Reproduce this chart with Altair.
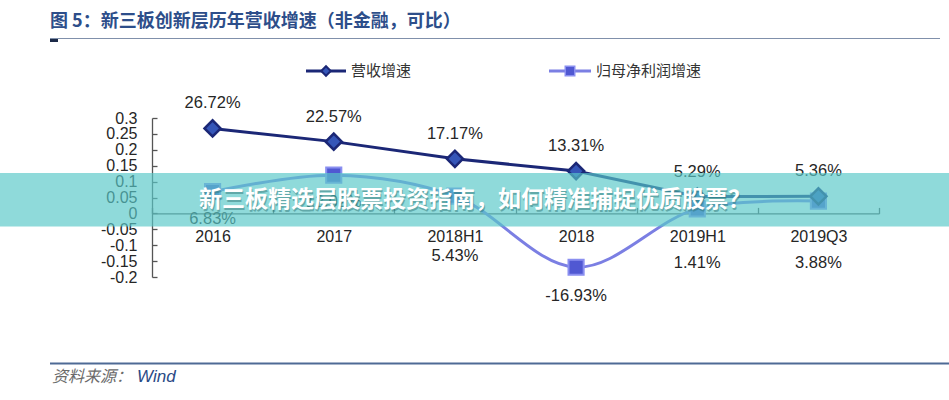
import altair as alt
import pandas as pd

# ---------------- data ----------------
categories = ["2016", "2017", "2018H1", "2018", "2019H1", "2019Q3"]
revenue_growth = [0.2672, 0.2257, 0.1717, 0.1331, 0.0529, 0.0536]
profit_growth = [0.0683, 0.1202, 0.0543, -0.1693, 0.0141, 0.0388]
y_ticks = [-0.2, -0.15, -0.1, -0.05, 0, 0.05, 0.1, 0.15, 0.2, 0.25, 0.3]

title_text = "图 5：新三板创新层历年营收增速（非金融，可比）"
series_names = ["营收增速", "归母净利润增速"]
source_label = "资料来源："
source_name = "Wind"
banner_text = "新三板精选层股票投资指南，如何精准捕捉优质股票？"

df = pd.DataFrame({"cat": categories, "rev": revenue_growth, "prof": profit_growth})

# ---------------- layout ----------------
W, H = 727, 159
PL, PT = 152, 118
Y_MIN, Y_MAX = -0.2, 0.3
ZERO_PX = H * Y_MAX / (Y_MAX - Y_MIN)

REV_COLOR = "#1b2776"
REV_FILL = "#3556b8"
PROF_COLOR = "#7b7fe3"
PROF_FILL = "#5058d2"
AXIS_COLOR = "#555555"
TXT = "#262626"
NUM_FONT = "Liberation Sans"
CJK_FONT = "Noto Sans CJK SC"

x_enc = alt.X(
    "cat:N",
    sort=categories,
    scale=alt.Scale(type="band", paddingInner=0, paddingOuter=0),
    axis=alt.Axis(
        orient="top", offset=-ZERO_PX, title=None, tickBand="extent",
        tickSize=6, tickColor=AXIS_COLOR, domainColor=AXIS_COLOR,
        domainWidth=1.3, tickWidth=1.3, labelAngle=0,
        labelPadding=-28.6, labelBaseline="middle", labelFont=NUM_FONT,
        labelFontSize=16, labelColor=TXT, grid=False, labelOverlap=False,
    ),
)


def y_enc(field):
    return alt.Y(
        field,
        scale=alt.Scale(domain=[Y_MIN, Y_MAX], nice=False, zero=False),
        axis=alt.Axis(
            orient="right", offset=-W, title=None, values=y_ticks,
            format=".2~f", tickSize=5, tickColor=AXIS_COLOR,
            domainColor=AXIS_COLOR, domainWidth=1.3, tickWidth=1.3,
            labelPadding=-20, labelAlign="right", labelFont=NUM_FONT,
            labelFontSize=16, labelColor=TXT, grid=False, labelOverlap=False,
        ),
    )


base = alt.Chart(df)

prof_line = base.mark_line(
    interpolate="catmull-rom", color=PROF_COLOR, strokeWidth=3
).encode(x=x_enc, y=y_enc("prof:Q"))

rev_line = base.mark_line(color=REV_COLOR, strokeWidth=3).encode(
    x=x_enc, y=y_enc("rev:Q")
)

prof_pts = base.mark_point(
    shape="square", filled=True, size=230, fill=PROF_FILL, stroke="#8a8ff0",
    strokeWidth=2, opacity=1,
).encode(x=x_enc, y=y_enc("prof:Q"))

rev_pts = base.mark_point(
    shape="diamond", filled=True, size=260, fill=REV_FILL, stroke=REV_COLOR,
    strokeWidth=2.5, opacity=1,
).encode(x=x_enc, y=y_enc("rev:Q"))

rev_lbl = base.mark_text(
    dy=-25, font=NUM_FONT, fontSize=16.5, color=TXT, baseline="middle"
).encode(x=x_enc, y=y_enc("rev:Q"), text=alt.Text("rev:Q", format=".2%"))

prof_lbl = base.transform_calculate(
    ly="datum.prof >= 0.06 ? datum.prof - 0.085 : "
       "(datum.prof >= 0.05 ? -0.135 : "
       "(datum.prof >= 0 ? -0.155 : datum.prof - 0.09))"
).mark_text(
    font=NUM_FONT, fontSize=16.5, color=TXT, baseline="middle"
).encode(x=x_enc, y=y_enc("ly:Q"), text=alt.Text("prof:Q", format=".2%"))


def one(**kw):
    return alt.Chart(alt.Data(values=[kw or {"k": 0}]))


# ---------------- legend ----------------
LY = 71 - PT
leg_rev_line = one().mark_rule(color=REV_COLOR, strokeWidth=3).encode(
    x=alt.value(306 - PL), x2=alt.value(346 - PL), y=alt.value(LY))
leg_rev_pt = one().mark_point(
    shape="diamond", filled=True, size=90, fill=REV_FILL, stroke=REV_COLOR,
    strokeWidth=2, opacity=1).encode(x=alt.value(326 - PL), y=alt.value(LY))
leg_rev_txt = one().mark_text(
    text=series_names[0], font=CJK_FONT, fontSize=15, color="#333333",
    align="left", baseline="middle").encode(x=alt.value(351 - PL), y=alt.value(LY))

leg_prof_line = one().mark_rule(color=PROF_COLOR, strokeWidth=3).encode(
    x=alt.value(549 - PL), x2=alt.value(591 - PL), y=alt.value(LY))
leg_prof_pt = one().mark_point(
    shape="square", filled=True, size=90, fill=PROF_FILL, stroke="#8a8ff0",
    strokeWidth=1.5, opacity=1).encode(x=alt.value(570 - PL), y=alt.value(LY))
leg_prof_txt = one().mark_text(
    text=series_names[1], font=CJK_FONT, fontSize=15, color="#333333",
    align="left", baseline="middle").encode(x=alt.value(596 - PL), y=alt.value(LY))

# ---------------- title & footer ----------------
title_mark = one().mark_text(
    text=title_text, font=CJK_FONT, fontSize=18, fontWeight="bold",
    color="#2d4e8a", align="left", baseline="middle").encode(
    x=alt.value(50 - PL), y=alt.value(22 - PT))
title_rule = one().mark_rule(color="#8090ab", strokeWidth=1).encode(
    x=alt.value(50 - PL), x2=alt.value(940 - PL), y=alt.value(38.5 - PT))
title_tab = one().mark_rule(color="#1c2a48", strokeWidth=3).encode(
    x=alt.value(50 - PL), x2=alt.value(58 - PL), y=alt.value(40.5 - PT))

foot_rule = one().mark_rule(color="#4e6a95", strokeWidth=2).encode(
    x=alt.value(50 - PL), x2=alt.value(949 - PL), y=alt.value(363.5 - PT))
foot_lbl = one().mark_text(
    text=source_label, font=CJK_FONT, fontSize=16, fontStyle="italic",
    color="#6a6a6a", align="left", baseline="middle").encode(
    x=alt.value(52 - PL), y=alt.value(377 - PT))
foot_name = one().mark_text(
    text=source_name, font=NUM_FONT, fontSize=17, fontStyle="italic",
    color="#2a4a86", align="left", baseline="middle").encode(
    x=alt.value(137 - PL), y=alt.value(377 - PT))

# ---------------- banner overlay ----------------
banner = one().mark_rect(color="#58c8c8", opacity=0.67).encode(
    x=alt.value(0 - PL), x2=alt.value(949 - PL),
    y=alt.value(173 - PT), y2=alt.value(226.5 - PT))
banner_shadow = one().mark_text(
    text=banner_text, font=CJK_FONT, fontSize=23, fontWeight="bold",
    color="#2a6f70", opacity=0.45, align="center", baseline="middle").encode(
    x=alt.value(476 - PL), y=alt.value(201.5 - PT))
banner_txt = one().mark_text(
    text=banner_text, font=CJK_FONT, fontSize=23, fontWeight="bold",
    color="#ffffff", align="center", baseline="middle").encode(
    x=alt.value(475 - PL), y=alt.value(200 - PT))

chart = alt.layer(
    prof_line, rev_line, prof_pts, rev_pts, rev_lbl, prof_lbl,
    leg_rev_line, leg_rev_pt, leg_rev_txt,
    leg_prof_line, leg_prof_pt, leg_prof_txt,
    title_mark, title_rule, title_tab, foot_rule, foot_lbl, foot_name,
    banner, banner_shadow, banner_txt,
).properties(
    width=W, height=H,
    autosize=alt.AutoSizeParams(type="none"),
    padding={"left": PL, "top": PT, "right": 949 - PL - W, "bottom": 400 - PT - H},
    background="#ffffff",
).configure(
    locale={"number": {"decimal": ".", "thousands": ",", "grouping": [3],
                       "currency": ["", ""], "minus": "-"}}
).configure_view(stroke=None)

chart.save("out.html", embed_options={"renderer": "svg", "actions": False})
